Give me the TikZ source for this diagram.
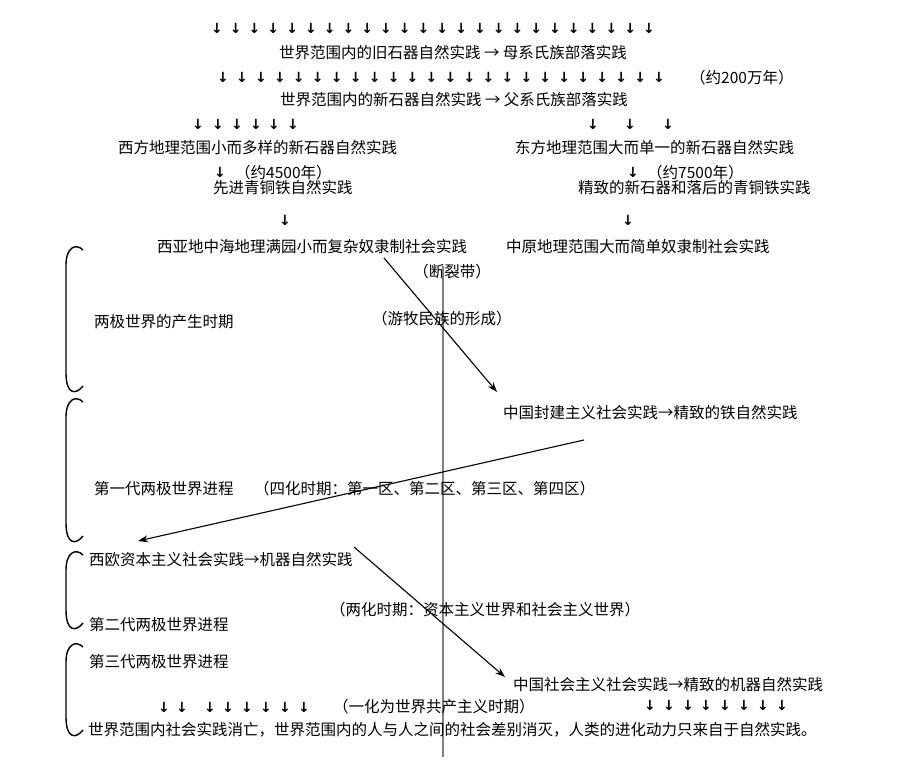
\documentclass[tikz,border=0pt]{standalone}
\usepackage{fontspec}
\setmainfont{Noto Sans CJK SC}
\newfontfamily\arrowfont{DejaVu Sans}
\usetikzlibrary{arrows.meta}

\begin{document}
\begin{tikzpicture}[x=1pt, y=-1pt,
            txt/.style={inner sep=0pt, font=\fontsize{15.5}{18}\selectfont},
            lt/.style={txt, anchor=west},
            dn/.style={inner sep=0pt, font=\arrowfont\bfseries\fontsize{14}{16}\selectfont},
            con/.style={-{Stealth[length=10pt, width=7pt]}, line width=1.1pt},
            brk/.style={line width=1.4pt},
            rift/.style={draw=gray, line width=1.4pt}
        ]
        \useasboundingbox[fill=white] (0,0) rectangle (900,763);

        \foreach \i in {0,...,23}
            \node [dn] (Ra\i) at (217+18.78*\i, 28) {↓};
        \node [txt] (Old) at (453, 53) {世界范围内的旧石器自然实践 → 母系氏族部落实践};
        \foreach \i in {0,...,23}
            \node [dn] (Rb\i) at (223+18.96*\i, 77) {↓};
        \node [lt] (Age) at (690, 78) {（约200万年）};
        \node [txt] (New) at (454, 100) {世界范围内的新石器自然实践 → 父系氏族部落实践};
        \foreach \x [count=\i] in {198,218,237,256,274,293}
            \node [dn] (Rw\i) at (\x, 124) {↓};
        \foreach \x [count=\i] in {593,630,668}
            \node [dn] (Re\i) at (\x, 124) {↓};

        \node [lt] (WN) at (118, 148) {西方地理范围小而多样的新石器自然实践};
        \node [lt] (EN) at (515, 148) {东方地理范围大而单一的新石器自然实践};
        \node [dn] (Dw1) at (220, 172) {↓};
        \node [lt] (WAge) at (235, 173) {（约4500年）};
        \node [dn] (De1) at (633, 172) {↓};
        \node [lt] (EAge) at (647, 173) {（约7500年）};
        \node [lt] (WB) at (213, 188) {先进青铜铁自然实践};
        \node [lt] (EB) at (578, 188) {精致的新石器和落后的青铜铁实践};
        \node [dn] (Dw2) at (285, 220) {↓};
        \node [dn] (De2) at (628, 220) {↓};
        \node [lt] (WS) at (157, 247) {西亚地中海地理满园小而复杂奴隶制社会实践};
        \node [lt] (ES) at (506, 247) {中原地理范围大而简单奴隶制社会实践};
        \node [txt] (Rift) at (452, 272) {（断裂带）};

        % the rift line
        \coordinate (Rt) at (443, 266);
        \coordinate (Rb) at (443, 757);
        \draw [rift] (Rt) -- (Rb);

        \node [lt] (P0) at (94, 322) {两极世界的产生时期};
        \node [lt] (Nom) at (372, 319) {（游牧民族的形成）};
        \node [lt] (CF) at (503, 413) {中国封建主义社会实践→精致的铁自然实践};
        \node [lt] (P1) at (94, 489) {第一代两极世界进程};
        \node [lt] (Four) at (254, 489) {（四化时期：第一区、第二区、第三区、第四区）};
        \node [lt] (WC) at (89, 560) {西欧资本主义社会实践→机器自然实践};
        \node [lt] (Two) at (330, 610) {（两化时期：资本主义世界和社会主义世界）};
        \node [lt] (P2) at (89, 625) {第二代两极世界进程};
        \node [lt] (P3) at (89, 662) {第三代两极世界进程};
        \node [lt] (CS) at (513, 685) {中国社会主义社会实践→精致的机器自然实践};
        \foreach \x [count=\i] in {164,182,210,228,247,266,285,304}
            \node [dn] (Lw\i) at (\x, 707) {↓};
        \node [lt] (One) at (333, 707) {（一化为世界共产主义时期）};
        \foreach \x [count=\i] in {650,669,688,706,725,744,763,782}
            \node [dn] (Le\i) at (\x, 705) {↓};
        \node [lt] (End) at (88, 730) {世界范围内社会实践消亡，世界范围内的人与人之间的社会差别消灭，人类的进化动力只来自于自然实践。};

        % diagonal connectors
        \coordinate (A1s) at (384, 258);
        \coordinate (A1e) at (497, 392);
        \coordinate (A2s) at (584, 440);
        \coordinate (A2e) at (138, 541);
        \coordinate (A3s) at (354, 547);
        \coordinate (A3e) at (505, 677);
        \draw [con] (A1s) -- (A1e);
        \draw [con] (A2s) -- (A2e);
        \draw [con] (A3s) -- (A3e);

        % brackets on the left
        \foreach \t/\b in {245/393, 397/543, 550/630, 642/737}
            \draw [brk] (83, \t+5) .. controls (76, \t-2) and (66, \t+2) .. (66, \t+20)
                -- (66, \b-20) .. controls (66, \b+2) and (76, \b+2) .. (83, \b-7);

\end{tikzpicture}
\end{document}
